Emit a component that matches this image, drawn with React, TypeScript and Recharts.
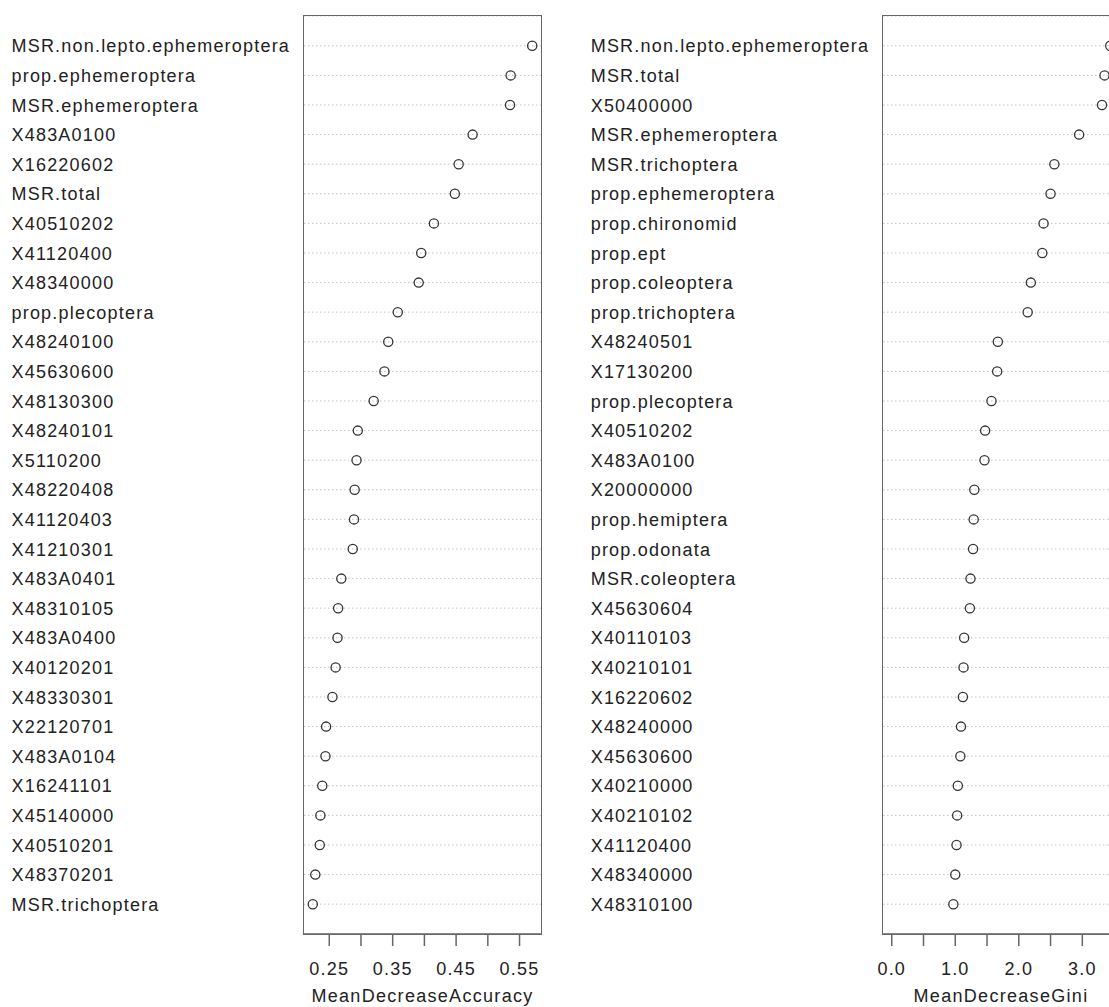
import { CartesianGrid, Label, Scatter, ScatterChart, XAxis, YAxis } from 'recharts'

const accNames = [
  'MSR.non.lepto.ephemeroptera', 'prop.ephemeroptera', 'MSR.ephemeroptera', 'X483A0100', 'X16220602',
  'MSR.total', 'X40510202', 'X41120400', 'X48340000', 'prop.plecoptera',
  'X48240100', 'X45630600', 'X48130300', 'X48240101', 'X5110200',
  'X48220408', 'X41120403', 'X41210301', 'X483A0401', 'X48310105',
  'X483A0400', 'X40120201', 'X48330301', 'X22120701', 'X483A0104',
  'X16241101', 'X45140000', 'X40510201', 'X48370201', 'MSR.trichoptera'
]
const accValues = [
  0.570, 0.536, 0.535, 0.476, 0.454, 0.448, 0.415, 0.395, 0.391, 0.358,
  0.343, 0.337, 0.320, 0.295, 0.293, 0.290, 0.289, 0.287, 0.269, 0.264,
  0.263, 0.260, 0.255, 0.245, 0.244, 0.239, 0.236, 0.235, 0.228, 0.224
]
const accTicks = [0.25, 0.3, 0.35, 0.4, 0.45, 0.5, 0.55]
const accTickLabels = ['0.25', '', '0.35', '', '0.45', '', '0.55']

const giniNames = [
  'MSR.non.lepto.ephemeroptera', 'MSR.total', 'X50400000', 'MSR.ephemeroptera', 'MSR.trichoptera',
  'prop.ephemeroptera', 'prop.chironomid', 'prop.ept', 'prop.coleoptera', 'prop.trichoptera',
  'X48240501', 'X17130200', 'prop.plecoptera', 'X40510202', 'X483A0100',
  'X20000000', 'prop.hemiptera', 'prop.odonata', 'MSR.coleoptera', 'X45630604',
  'X40110103', 'X40210101', 'X16220602', 'X48240000', 'X45630600',
  'X40210000', 'X40210102', 'X41120400', 'X48340000', 'X48310100'
]
const giniValues = [
  3.44, 3.35, 3.31, 2.95, 2.56, 2.50, 2.39, 2.37, 2.19, 2.14,
  1.67, 1.66, 1.57, 1.47, 1.46, 1.30, 1.29, 1.28, 1.24, 1.23,
  1.14, 1.13, 1.12, 1.09, 1.08, 1.04, 1.03, 1.02, 1.00, 0.97
]
const giniTicks = [0, 0.5, 1, 1.5, 2, 2.5, 3, 3.5]
const giniTickLabels = ['0.0', '', '1.0', '', '2.0', '', '3.0', '']

const FONT = '"Liberation Sans", Arial, Helvetica, sans-serif'
const TEXT = '#222'
const FRAME = '#666'

const W = 560
const H = 1007
const TOP = 16
const BOTTOM = 13
const XAXIS_H = 60

type PanelProps = {
  names: string[]
  values: number[]
  ticks: number[]
  tickLabels: string[]
  title: string
  fromZero?: boolean
  labelX: number
  yAxisWidth: number
  rightMargin: number
}

function Panel({ names, values, ticks, tickLabels, title, fromZero, labelX, yAxisWidth, rightMargin }: PanelProps) {
  const data = names.map((name, i) => ({ name, value: values[i] }))
  const lo = fromZero ? 0 : Math.min(...values)
  const hi = Math.max(...values)
  const pad = (hi - lo) * 0.04
  const domain = [lo - pad, hi + pad]

  return (
    <div style={{ position: 'relative', width: W, height: H }}>
      <ScatterChart width={W} height={H} margin={{ top: TOP, right: rightMargin, bottom: BOTTOM, left: 0 }}>
        <CartesianGrid vertical={false} stroke="#c4c4c4" strokeDasharray="1.5 2.5" />
        <XAxis
          type="number"
          dataKey="value"
          domain={domain}
          ticks={ticks}
          interval={0}
          allowDataOverflow
          height={XAXIS_H}
          tickSize={12}
          stroke={FRAME}
          strokeWidth={1.5}
          tick={(p: any) => (
            <text x={p.x} y={p.y + 27} textAnchor="middle" fontFamily={FONT} fontSize={18} letterSpacing={1.2} fill={TEXT}>
              {tickLabels[ticks.indexOf(p.payload.value)] ?? ''}
            </text>
          )}
        >
          <Label
            content={(p: any) => (
              <text
                x={p.viewBox.x + p.viewBox.width / 2}
                y={p.viewBox.y + 68}
                textAnchor="middle"
                fontFamily={FONT}
                fontSize={18}
                letterSpacing={1.3}
                fill={TEXT}
              >
                {title}
              </text>
            )}
          />
        </XAxis>
        <YAxis
          type="category"
          dataKey="name"
          reversed
          width={yAxisWidth}
          padding={{ top: 15, bottom: 15 }}
          interval={0}
          tickLine={false}
          axisLine={false}
          tick={(p: any) => (
            <text x={labelX} y={p.y + 6.5} textAnchor="start" fontFamily={FONT} fontSize={18} letterSpacing={1.2} fill={TEXT}>
              {p.payload.value}
            </text>
          )}
        />
        <Scatter
          data={data}
          isAnimationActive={false}
          shape={(p: any) => <circle cx={p.cx} cy={p.cy} r={4.6} fill="none" stroke="#333" strokeWidth={1.3} />}
        />
      </ScatterChart>
      {/* plot frame, as R's box() */}
      <div
        style={{
          position: 'absolute',
          left: yAxisWidth - 0.75,
          top: TOP - 0.75,
          width: W - rightMargin - yAxisWidth + 1.5,
          height: H - TOP - BOTTOM - XAXIS_H + 1.5,
          border: `1.5px solid ${FRAME}`,
          boxSizing: 'border-box',
          pointerEvents: 'none'
        }}
      />
    </div>
  )
}

export default function App() {
  return (
    <div style={{ position: 'fixed', left: 0, top: 0, width: 1109, height: 1007, overflow: 'hidden', background: '#fff' }}>
      <div style={{ position: 'absolute', left: 0, top: 0 }}>
        <Panel
          names={accNames}
          values={accValues}
          ticks={accTicks}
          tickLabels={accTickLabels}
          title="MeanDecreaseAccuracy"
          labelX={11.5}
          yAxisWidth={304}
          rightMargin={19}
        />
      </div>
      <div style={{ position: 'absolute', left: 580, top: 0 }}>
        <Panel
          names={giniNames}
          values={giniValues}
          ticks={giniTicks}
          tickLabels={giniTickLabels}
          title="MeanDecreaseGini"
          fromZero
          labelX={10.7}
          yAxisWidth={303}
          rightMargin={21}
        />
      </div>
    </div>
  )
}
